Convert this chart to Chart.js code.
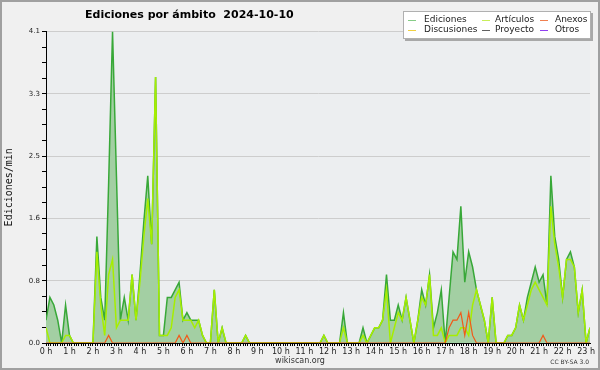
<!DOCTYPE html>
<html>
<head>
<meta charset="utf-8">
<script src="https://cdn.jsdelivr.net/npm/chart.js@4.4.1/dist/chart.umd.min.js"></script>
<style>
html,body{margin:0;padding:0;background:#f0f0f0;}
canvas{display:block;}
</style>
</head>
<body>
<canvas id="c" width="600" height="370"></canvas>
<script>
const titleText = 'Ediciones por ámbito  2024-10-10';
const yAxisTitle = 'Ediciones/min';
const footerText = 'wikiscan.org';
const licenseText = 'CC BY-SA 3.0';

// one value every 10 minutes, from 00:00 to 23:10
const stepMinutes = 10;
const lastMinute = 1390;

const seriesNames = ['Ediciones', 'Artículos', 'Anexos', 'Discusiones', 'Proyecto', 'Otros'];

const ediciones = [
  0.3, 0.6, 0.5, 0.3, 0, 0.5, 0.1, 0, 0, 0,
  0, 0, 0, 1.4, 0.6, 0.3, 2.1, 4.1, 2.2, 0.3,
  0.6, 0.3, 0.9, 0.3, 0.9, 1.6, 2.2, 1.3, 3.5, 0.1,
  0.1, 0.6, 0.6, 0.7, 0.8, 0.3, 0.4, 0.3, 0.3, 0.3,
  0.1, 0, 0, 0.7, 0, 0.2, 0, 0, 0, 0,
  0, 0.1, 0, 0, 0, 0, 0, 0, 0, 0,
  0, 0, 0, 0, 0, 0, 0, 0, 0, 0,
  0, 0.1, 0, 0, 0, 0, 0.4, 0, 0, 0,
  0, 0.2, 0, 0.1, 0.2, 0.2, 0.3, 0.9, 0.3, 0.3,
  0.5, 0.3, 0.6, 0.3, 0, 0.3, 0.7, 0.5, 0.9, 0.2,
  0.4, 0.7, 0, 0.6, 1.2, 1.1, 1.8, 0.8, 1.2, 1.0,
  0.7, 0.5, 0.3, 0, 0.6, 0, 0, 0, 0.1, 0.1,
  0.2, 0.5, 0.3, 0.6, 0.8, 1.0, 0.8, 0.9, 0.5, 2.2,
  1.4, 1.1, 0.6, 1.1, 1.2, 1.0, 0.4, 0.7, 0, 0.2
];

const articulos = [
  0.2, 0, 0, 0, 0, 0.1, 0.1, 0, 0, 0,
  0, 0, 0, 1.2, 0.5, 0.1, 0.9, 1.1, 0.2, 0.3,
  0.3, 0.3, 0.9, 0.3, 0.8, 1.4, 1.9, 1.3, 3.5, 0.1,
  0.1, 0.1, 0.2, 0.6, 0.7, 0.3, 0.3, 0.3, 0.2, 0.3,
  0.1, 0, 0, 0.7, 0, 0.2, 0, 0, 0, 0,
  0, 0.1, 0, 0, 0, 0, 0, 0, 0, 0,
  0, 0, 0, 0, 0, 0, 0, 0, 0, 0,
  0, 0.1, 0, 0, 0, 0, 0.2, 0, 0, 0,
  0, 0.1, 0, 0.1, 0.2, 0.2, 0.3, 0.7, 0, 0.2,
  0.4, 0.3, 0.6, 0.3, 0, 0.3, 0.6, 0.5, 0.9, 0.1,
  0.1, 0.2, 0, 0.1, 0.1, 0.1, 0.2, 0.2, 0.1, 0.5,
  0.7, 0.5, 0.3, 0, 0.6, 0, 0, 0, 0.1, 0.1,
  0.2, 0.5, 0.3, 0.5, 0.7, 0.8, 0.7, 0.6, 0.5, 1.8,
  1.3, 1.0, 0.6, 1.1, 1.1, 1.0, 0.4, 0.7, 0, 0.2
];

const anexos = [
  0, 0, 0, 0, 0, 0, 0, 0, 0, 0,
  0, 0, 0, 0, 0, 0, 0.1, 0, 0, 0,
  0, 0, 0, 0, 0, 0, 0, 0, 0, 0,
  0, 0, 0, 0, 0.1, 0, 0.1, 0, 0, 0,
  0, 0, 0, 0, 0, 0, 0, 0, 0, 0,
  0, 0, 0, 0, 0, 0, 0, 0, 0, 0,
  0, 0, 0, 0, 0, 0, 0, 0, 0, 0,
  0, 0, 0, 0, 0, 0, 0, 0, 0, 0,
  0, 0, 0, 0, 0, 0, 0, 0, 0, 0,
  0, 0, 0, 0, 0, 0, 0, 0, 0, 0,
  0, 0, 0, 0.2, 0.3, 0.3, 0.4, 0.1, 0.4, 0.1,
  0, 0, 0, 0, 0, 0, 0, 0, 0, 0,
  0, 0, 0, 0, 0, 0, 0, 0.1, 0, 0,
  0, 0, 0, 0, 0, 0, 0, 0, 0, 0
];

const discusiones = [];
const proyecto = [];
const otros = [];

const yMax = 4.1;
const yTickLabels = ['0.0', '0.8', '1.6', '2.5', '3.3', '4.1'];
const xTickLabels = ['0 h','1 h','2 h','3 h','4 h','5 h','6 h','7 h','8 h','9 h','10 h','11 h',
                     '12 h','13 h','14 h','15 h','16 h','17 h','18 h','19 h','20 h','21 h','22 h','23 h'];

const toPoints = arr => arr.map((v, i) => ({ x: i * stepMinutes, y: v }));

const lineColors   = ['#38a838', '#a6ee00', '#f05a1a', '#f0cc30', '#555555', '#9040f0'];
const legendColors = ['#86cc86', '#c8ee5a', '#f08050', '#f0d040', '#606060', '#9040f0'];
const seriesData = [ediciones, articulos, anexos, discusiones, proyecto, otros];
const drawOrder = [5, 2, 1, 3, 4, 0];

const datasets = seriesNames.map((name, d) => ({
  label: name,
  data: toPoints(seriesData[d]),
  borderColor: lineColors[d],
  backgroundColor: d === 0 ? '#a3cfa3' : lineColors[d],
  fill: d === 0 ? 'origin' : false,
  borderWidth: d === 0 ? 1.5 : (d === 1 ? 1.5 : 1.2),
  pointRadius: 0,
  tension: 0,
  order: drawOrder[d]
}));

const decoPlugin = {
  id: 'deco',
  beforeDraw(chart) {
    const { ctx, chartArea: a, width, height } = chart;
    ctx.save();
    ctx.fillStyle = '#f0f0f0';
    ctx.fillRect(0, 0, width, height);
    ctx.fillStyle = '#eceef0';
    ctx.fillRect(a.left, a.top, a.right - a.left, a.bottom - a.top);
    ctx.strokeStyle = '#a0a0a0';
    ctx.lineWidth = 2;
    ctx.strokeRect(1, 1, width - 2, height - 2);
    ctx.restore();
  },
  afterDraw(chart) {
    const { ctx } = chart;
    ctx.save();
    // title
    ctx.fillStyle = '#000';
    ctx.font = 'bold 11px "DejaVu Sans"';
    ctx.textAlign = 'left';
    ctx.textBaseline = 'middle';
    ctx.fillText(titleText, 85, 15);

    // legend box with shadow
    const bx = 403, by = 11, bw = 188, bh = 28;
    ctx.fillStyle = '#a8a8a8';
    ctx.fillRect(bx + 2, by + 2, bw, bh);
    ctx.fillStyle = '#ffffff';
    ctx.fillRect(bx, by, bw, bh);
    ctx.strokeStyle = '#b0b0b0';
    ctx.lineWidth = 1;
    ctx.strokeRect(bx + 0.5, by + 0.5, bw - 1, bh - 1);

    const lineX = [408, 482, 540];
    const textX = [424, 495, 555];
    const rowY = [19.5, 30];
    ctx.font = '9px "DejaVu Sans"';
    chart.data.datasets.forEach((ds, d) => {
      const col = d % 3, row = Math.floor(d / 3);
      ctx.strokeStyle = legendColors[d];
      ctx.lineWidth = 1;
      ctx.beginPath();
      ctx.moveTo(lineX[col], Math.round(rowY[row]) + 0.5);
      ctx.lineTo(lineX[col] + 8, Math.round(rowY[row]) + 0.5);
      ctx.stroke();
      ctx.fillStyle = '#222';
      ctx.fillText(ds.label, textX[col], rowY[row]);
    });

    // footer
    ctx.fillStyle = '#333';
    ctx.font = '8px "DejaVu Sans"';
    ctx.textAlign = 'center';
    ctx.fillText(footerText, 300, 361);
    ctx.font = '6px "DejaVu Sans"';
    ctx.textAlign = 'right';
    ctx.fillText(licenseText, 589, 362);
    ctx.restore();
  }
};

Chart.defaults.font.family = '"DejaVu Sans", sans-serif';

new Chart(document.getElementById('c'), {
  type: 'line',
  data: { datasets },
  plugins: [decoPlugin],
  options: {
    responsive: false,
    devicePixelRatio: 1,
    animation: false,
    layout: { padding: { left: 0, right: 10, top: 31.5, bottom: 0 } },
    plugins: {
      legend: { display: false },
      title: { display: false },
      tooltip: { enabled: false }
    },
    scales: {
      x: {
        type: 'linear',
        min: 0,
        max: lastMinute,
        z: 1,
        afterBuildTicks: s => {
          const t = [];
          for (let m = 0; m <= lastMinute; m += 6) t.push({ value: m });
          s.ticks = t;
        },
        afterFit: s => { s.height = 27; },
        ticks: {
          autoSkip: false,
          maxRotation: 0,
          minRotation: 0,
          padding: 1,
          color: '#222',
          font: { family: '"DejaVu Sans"', size: 8 },
          callback: v => (v % 60 === 0 ? xTickLabels[v / 60] : '')
        },
        grid: { drawOnChartArea: false, drawTicks: true, tickLength: 3, tickColor: '#000' },
        border: { display: true, color: '#000', width: 1 }
      },
      y: {
        min: 0,
        max: yMax,
        afterBuildTicks: s => {
          const t = [];
          for (let k = 0; k <= 20; k++) t.push({ value: yMax * k / 20 });
          s.ticks = t;
        },
        afterFit: s => { s.width = 46; },
        ticks: {
          autoSkip: false,
          padding: 2,
          color: '#222',
          font: { family: '"DejaVu Sans"', size: 7 },
          callback: (v, i) => (i % 4 === 0 ? yTickLabels[i / 4] : '')
        },
        grid: {
          color: c => (c.index % 4 === 0 ? '#cdcdcd' : 'rgba(0,0,0,0)'),
          lineWidth: 1,
          drawTicks: true,
          tickLength: 4,
          tickColor: '#000'
        },
        border: { display: true, color: '#000', width: 1 },
        title: {
          display: true,
          text: yAxisTitle,
          color: '#111',
          font: { family: '"DejaVu Sans Mono"', size: 10 },
          padding: { top: 3, bottom: 0 }
        }
      }
    }
  }
});
</script>
</body>
</html>
